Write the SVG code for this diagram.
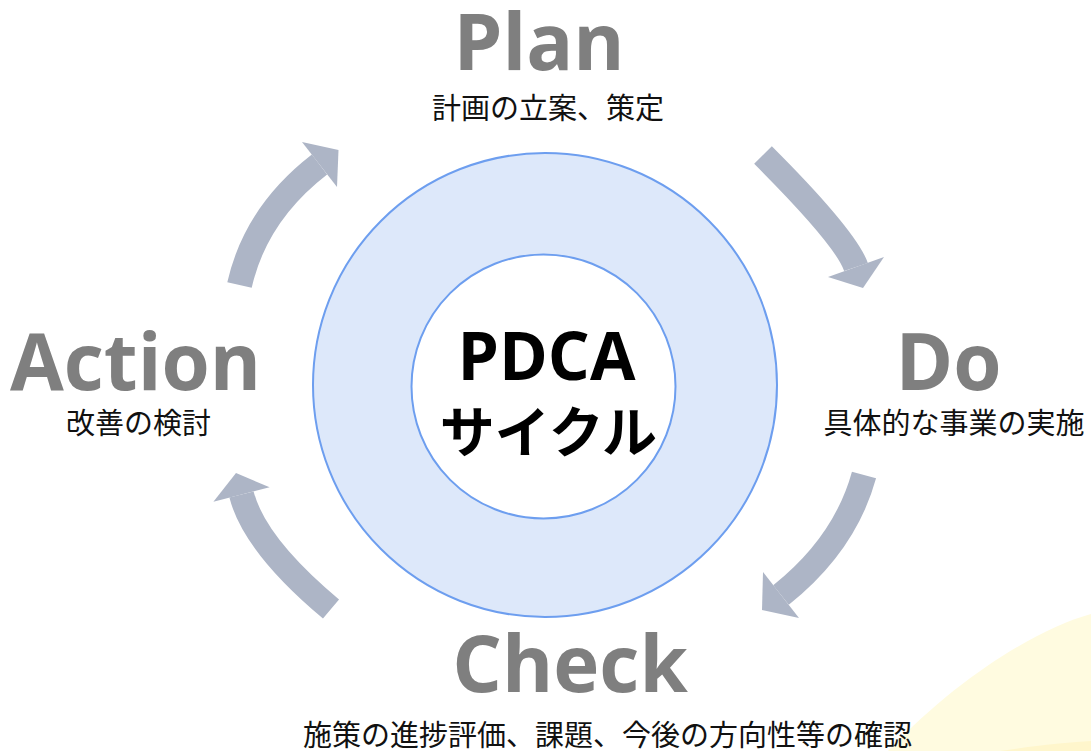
<svg xmlns="http://www.w3.org/2000/svg" width="1091" height="751" viewBox="0 0 1091 751">
<style>
.lbl{font-family:"Open Sans","Noto Sans","Liberation Sans",sans-serif;font-weight:700;font-size:78px;fill:#7f7f7f;text-anchor:middle}
.sub{font-family:"Noto Sans CJK JP","Noto Sans",sans-serif;font-weight:400;font-size:29px;fill:#111;text-anchor:middle}
.shaft{fill:none;stroke:#adb5c6;stroke-width:25}
.head{fill:#adb5c6}
</style>
<rect width="1091" height="751" fill="#ffffff"/>
<g id="background">
<path d="M1091,614 C1040,628 960,675 888,751 L1091,751 Z" fill="#fffbe0"/>
<path d="M1000,751 C1040,745 1070,742 1091,741 L1091,751 Z" fill="#fff6cc"/>
</g>
<g id="center">
<circle cx="545" cy="385" r="232" fill="#dde8fa" stroke="#6d9eef" stroke-width="2"/>
<circle cx="543.5" cy="386.5" r="132" fill="#ffffff" stroke="#6d9eef" stroke-width="2"/>
<text x="546.5" y="380" font-family="'Open Sans','Liberation Sans',sans-serif" font-weight="700" font-size="66" fill="#000" text-anchor="middle">PDCA</text>
<text x="548.5" y="452" font-family="'Noto Sans CJK JP',sans-serif" font-weight="700" font-size="55" fill="#000" text-anchor="middle">サイクル</text>
</g>
<g id="connectors">
<path class="shaft" d="M763,155 Q846,238 856,267"/>
<polygon class="head" points="884,257 863,288 828,277"/>
<path class="shaft" d="M864,475 Q845,544 781,595"/>
<polygon class="head" points="799,618 762,610 763,572"/>
<path class="shaft" d="M331,609 Q254.5,545 241.5,494.5"/>
<polygon class="head" points="269.6,487.3 236,473 213.4,501.7"/>
<path class="shaft" d="M239.5,285 Q255.7,213.7 319.5,164.5"/>
<polygon class="head" points="337,187 338.5,150 302,142"/>
</g>
<g id="plan">
<text class="lbl" x="539" y="70">Plan</text>
<text class="sub" x="548" y="119">計画の立案、策定</text>
</g>
<g id="do">
<text class="lbl" x="948.5" y="390">Do</text>
<text class="sub" x="954" y="434">具体的な事業の実施</text>
</g>
<g id="check">
<text class="lbl" x="570" y="692">Check</text>
<text class="sub" x="607.5" y="746">施策の進捗評価、課題、今後の方向性等の確認</text>
</g>
<g id="action">
<text class="lbl" x="135.5" y="390">Action</text>
<text class="sub" x="138.5" y="434">改善の検討</text>
</g>
</svg>
